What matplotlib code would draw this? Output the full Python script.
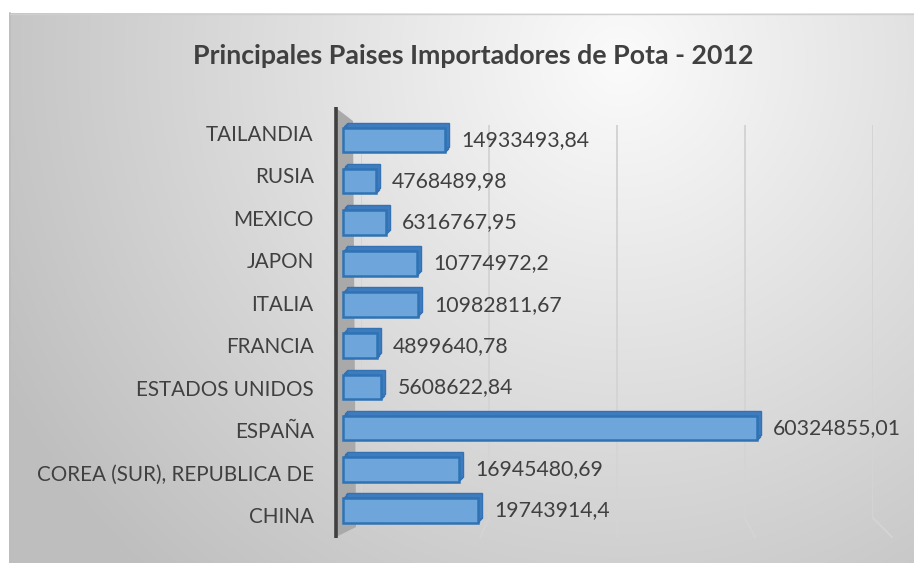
import matplotlib
matplotlib.use('Agg')
import matplotlib.pyplot as plt
import numpy as np
from matplotlib import transforms
from matplotlib.patches import Polygon

categories = ['CHINA', 'COREA (SUR), REPUBLICA DE', 'ESPAÑA', 'ESTADOS UNIDOS', 'FRANCIA',
              'ITALIA', 'JAPON', 'MEXICO', 'RUSIA', 'TAILANDIA']
values = [19743914.4, 16945480.69, 60324855.01, 5608622.84, 4899640.78,
          10982811.67, 10774972.2, 6316767.95, 4768489.98, 14933493.84]
value_labels = [str(v).replace('.', ',') for v in values]
grid_ticks = [0, 20e6, 40e6, 60e6, 80e6]
title = 'Principales Paises Importadores de Pota - 2012'

W, H = 914, 563
plt.rcParams['font.family'] = ['Lato', 'DejaVu Sans']
fig = plt.figure(figsize=(W / 100, H / 100), dpi=100)


def fx(px):
    return px / W


def fy(py):
    return 1 - py / H


# background with gradient
bg = fig.add_axes([0, 0, 1, 1], zorder=0)
bg.set_xlim(0, W)
bg.set_ylim(H, 0)
bg.axis('off')
yy, xx = np.mgrid[0:H, 0:W]
d = np.sqrt(((xx - 620) / 600.0) ** 2 + ((yy - 60) / 600.0) ** 2)
g = np.clip(251 - 52 * d, 190, 252) / 255.0
img = np.dstack([g, g, g])
img[:13, :] = 1
img[:, :9] = 1
bg.imshow(img, extent=(0, W, H, 0), aspect='auto', interpolation='bilinear')
bg.plot([9.5, 9.5], [13, H], color='#bdbdbd', lw=1.2)
bg.plot([9.5, W], [13.5, 13.5], color='#cfcfcf', lw=1.0)

# back wall gridlines
back = fig.add_axes([fx(361), fy(518), fx(873 - 361), (518 - 125) / H], zorder=1)
back.set_facecolor('none')
back.set_xlim(0, 80e6)
back.set_ylim(0, 1)
back.set_xticks(grid_ticks)
back.set_yticks([])
back.grid(axis='x', color='#d4d4d4', lw=1.4)
back.tick_params(axis='x', length=0, labelbottom=False)
for s in back.spines.values():
    s.set_visible(False)

# category label axis (perspective: labels slightly more spread than bars)
lab = fig.add_axes([fx(343), fy(536.2), fx(892 - 343), (536.2 - 111.8) / H], zorder=1)
lab.set_facecolor('none')
lab.set_ylim(-0.5, 9.5)
lab.set_xticks([])
ypos = np.arange(len(categories))
lab.set_yticks(ypos)
lab.set_yticklabels(categories, fontsize=14.9, color='#404040')
lab.tick_params(axis='y', length=0, pad=21)
for s in lab.spines.values():
    s.set_visible(False)

# front axes
ax = fig.add_axes([fx(343), fy(531), fx(892 - 343), (531 - 119.4) / H], zorder=2)
ax.set_facecolor('none')
ax.set_xlim(0, 80e6)
ax.set_ylim(-0.5, 9.5)

fig.canvas.draw()
# floor bends of the gridlines
for v in grid_ticks[1:]:
    bx, by = back.transData.transform((v, 0))
    fxp, _ = ax.transData.transform((v, 0))
    bg.plot([bx, fxp], [H - by, 537], color='#d4d4d4', lw=1.4, zorder=2)

# left wall and axis line
wall = Polygon([(336, 108), (353, 121), (356, 527), (336, 537)], closed=True,
               facecolor='#a9a9a9', edgecolor='none', zorder=3)
bg.add_patch(wall)
bg.plot([336, 336], [107, 538], color='#404040', lw=2.6, zorder=4,
        solid_capstyle='butt')

# depth of the bars
for k in range(1, 5):
    off = transforms.offset_copy(ax.transData, fig=fig, x=k, y=1.25 * k, units='dots')
    ax.barh(ypos, values, height=0.6, color='#3f7cbf', edgecolor='#3572b4',
            linewidth=1.0, transform=off, clip_on=False, zorder=2)
# front faces
ax.barh(ypos, values, height=0.6, color='#6ea6dc', edgecolor='#2f73b5',
        linewidth=1.8, clip_on=False, zorder=3)

for i, (v, lbl) in enumerate(zip(values, value_labels)):
    ax.annotate(lbl, (v, i), xytext=(16, 0), textcoords='offset pixels',
                va='center', ha='left', fontsize=15.3, color='#404040',
                annotation_clip=False)

ax.set_yticks([])
ax.set_xticks([])
for s in ax.spines.values():
    s.set_visible(False)

fig.text(fx(473), fy(56), title, ha='center', va='center', fontsize=19.3,
         fontweight='bold', color='#404040')

fig.savefig('out.png', dpi=100)
